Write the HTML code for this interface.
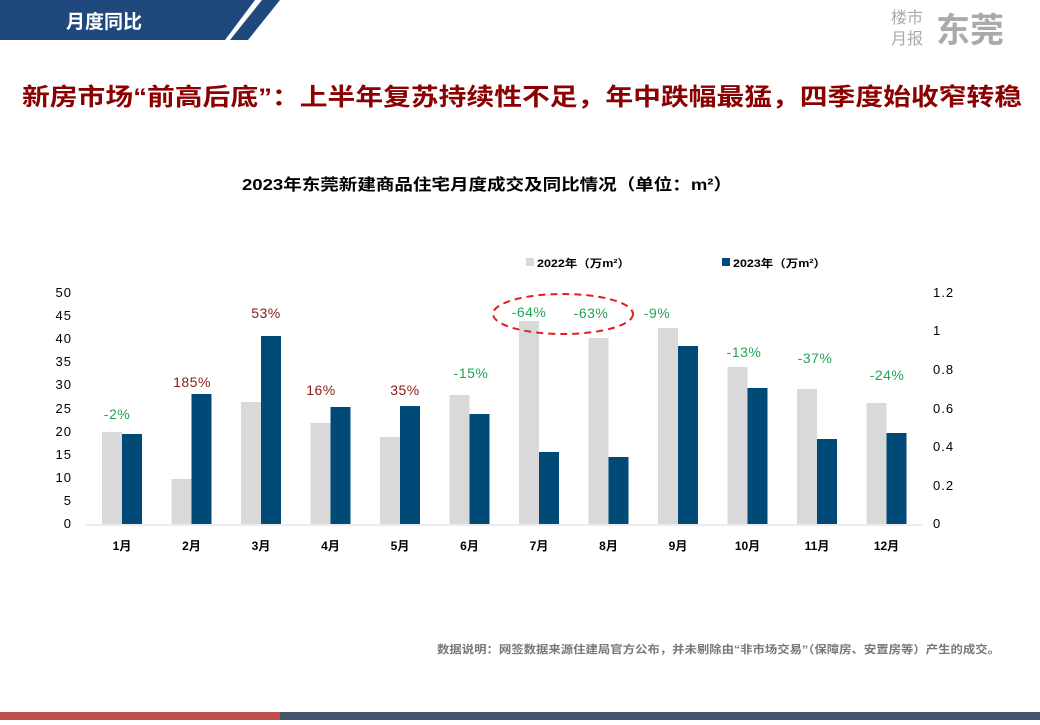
<!DOCTYPE html>
<html><head><meta charset="utf-8"><style>
body{margin:0;width:1040px;height:720px;background:#fff;overflow:hidden;font-family:"Liberation Sans","Noto Sans CJK SC",sans-serif}
</style></head><body>
<svg width="1040" height="720" xmlns="http://www.w3.org/2000/svg" font-family="Liberation Sans, Noto Sans CJK SC, sans-serif">
<polygon points="0,0 255,0 225,40 0,40" fill="#1f497d"/>
<polygon points="262,0 280,0 248,40 230,40" fill="#1f497d"/>
<text x="66" y="28" font-size="19" font-weight="bold" fill="#fff">月度同比</text>
<text x="891" y="23" font-size="16" fill="#aaa">楼市</text>
<text x="891" y="44" font-size="16" fill="#aaa">月报</text>
<text x="936" y="42" font-size="34" font-weight="bold" fill="#aaa">东莞</text>
<text x="22" y="105" font-size="24" font-weight="bold" fill="#8b0000" textLength="1000" lengthAdjust="spacingAndGlyphs">新房市场“前高后底”：上半年复苏持续性不足，年中跌幅最猛，四季度始收窄转稳</text>
<text x="242" y="190" font-size="16" font-weight="bold" fill="#000" textLength="490" lengthAdjust="spacingAndGlyphs">2023年东莞新建商品住宅月度成交及同比情况（单位：m²）</text>
<rect x="526" y="258" width="8" height="8" fill="#d9d9d9"/>
<text x="537" y="267" font-size="11" font-weight="bold" fill="#000" textLength="93" lengthAdjust="spacingAndGlyphs">2022年（万m²）</text>
<rect x="722" y="258" width="8" height="8" fill="#004a78"/>
<text x="733" y="267" font-size="11" font-weight="bold" fill="#000" textLength="93" lengthAdjust="spacingAndGlyphs">2023年（万m²）</text>
<g font-size="13" fill="#000" text-anchor="end" letter-spacing="1">
<text x="72" y="297">50</text><text x="72" y="320">45</text><text x="72" y="343">40</text><text x="72" y="366">35</text><text x="72" y="389">30</text><text x="72" y="413">25</text><text x="72" y="436">20</text><text x="72" y="459">15</text><text x="72" y="482">10</text><text x="72" y="505">5</text><text x="72" y="528">0</text>
</g>
<g font-size="13" fill="#000" letter-spacing="1">
<text x="933" y="297">1.2</text><text x="933" y="335">1</text><text x="933" y="374">0.8</text><text x="933" y="413">0.6</text><text x="933" y="451">0.4</text><text x="933" y="490">0.2</text><text x="933" y="528">0</text>
</g>
<g fill="#d9d9d9">
<rect x="102" y="432" width="20" height="92"/><rect x="171.5" y="479" width="20" height="45"/><rect x="241" y="402" width="20" height="122"/><rect x="310.5" y="423" width="20" height="101"/><rect x="380" y="437" width="20" height="87"/><rect x="449.5" y="395" width="20" height="129"/><rect x="519" y="321" width="20" height="203"/><rect x="588.5" y="338" width="20" height="186"/><rect x="658" y="328" width="20" height="196"/><rect x="727.5" y="367" width="20" height="157"/><rect x="797" y="389" width="20" height="135"/><rect x="866.5" y="403" width="20" height="121"/>
</g>
<g fill="#004a78">
<rect x="122" y="434" width="20" height="90"/><rect x="191.5" y="394" width="20" height="130"/><rect x="261" y="336" width="20" height="188"/><rect x="330.5" y="407" width="20" height="117"/><rect x="400" y="406" width="20" height="118"/><rect x="469.5" y="414" width="20" height="110"/><rect x="539" y="452" width="20" height="72"/><rect x="608.5" y="457" width="20" height="67"/><rect x="678" y="346" width="20" height="178"/><rect x="747.5" y="388" width="20" height="136"/><rect x="817" y="439" width="20" height="85"/><rect x="886.5" y="433" width="20" height="91"/>
</g>
<line x1="86" y1="525" x2="922" y2="525" stroke="#d9d9d9" stroke-width="1"/>
<g font-size="12" font-weight="bold" fill="#000" text-anchor="middle">
<text x="122" y="550">1月</text><text x="191.5" y="550">2月</text><text x="261" y="550">3月</text><text x="330.5" y="550">4月</text><text x="400" y="550">5月</text><text x="469.5" y="550">6月</text><text x="539" y="550">7月</text><text x="608.5" y="550">8月</text><text x="678" y="550">9月</text><text x="747.5" y="550">10月</text><text x="817" y="550">11月</text><text x="886.5" y="550">12月</text>
</g>
<g font-size="14" text-anchor="middle" letter-spacing="0.5">
<text x="117" y="419" fill="#21a556">-2%</text>
<text x="192" y="387" fill="#8b1a1a">185%</text>
<text x="266" y="318" fill="#8b1a1a">53%</text>
<text x="321" y="395" fill="#8b1a1a">16%</text>
<text x="405" y="395" fill="#8b1a1a">35%</text>
<text x="471" y="378" fill="#21a556">-15%</text>
<text x="529" y="317" fill="#21a556">-64%</text>
<text x="591" y="318" fill="#21a556">-63%</text>
<text x="657" y="318" fill="#21a556">-9%</text>
<text x="744" y="357" fill="#21a556">-13%</text>
<text x="815" y="363" fill="#21a556">-37%</text>
<text x="887" y="380" fill="#21a556">-24%</text>
</g>
<ellipse cx="563" cy="314" rx="70" ry="20" fill="none" stroke="#e02020" stroke-width="2" stroke-dasharray="7,5"/>
<text x="437" y="653" font-size="11" font-weight="bold" fill="#777" textLength="563" lengthAdjust="spacingAndGlyphs">数据说明：网签数据来源住建局官方公布，并未剔除由“非市场交易”（保障房、安置房等）产生的成交。</text>
<rect x="0" y="712" width="280" height="8" fill="#c0504d"/>
<rect x="280" y="712" width="760" height="8" fill="#44546a"/>
</svg>
</body></html>
